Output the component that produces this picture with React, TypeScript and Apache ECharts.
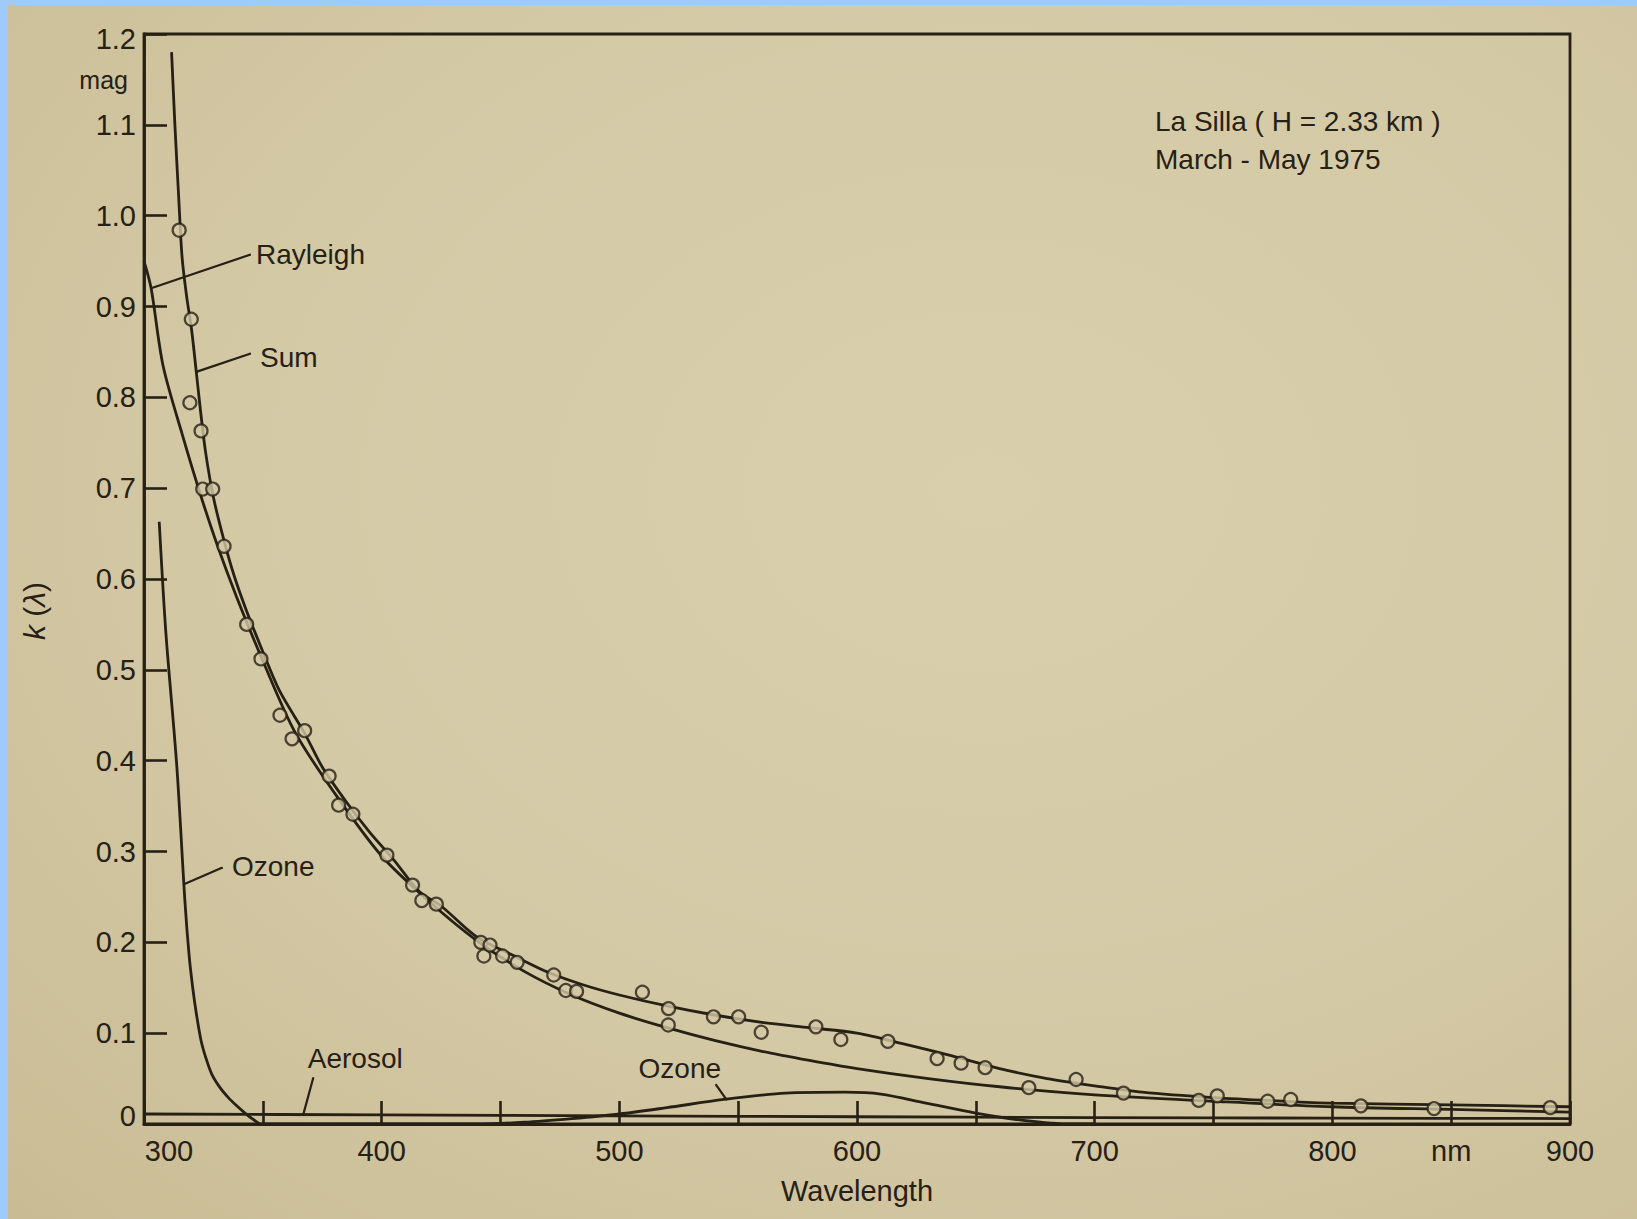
import React, { useEffect, useRef } from "react";
import * as echarts from "echarts";

// ---------- data ----------
// Sum curve (total extinction), wavelength in nm
const sumNm = [311.6, 313, 314.6, 316, 318, 320, 322, 324, 326, 329.2, 333.7, 338, 343, 350, 357, 367.6, 375, 385, 395, 405, 415.8, 425, 440, 455, 470, 485, 500, 520, 540, 560, 580, 600, 620, 640, 660, 680, 700, 720, 750, 780, 800, 850, 900];
const sumK = [1.18, 1.1, 1.02, 0.955, 0.91, 0.875, 0.828, 0.78, 0.738, 0.69, 0.642, 0.603, 0.566, 0.52, 0.477, 0.43, 0.393, 0.355, 0.321, 0.291, 0.256, 0.24, 0.206, 0.186, 0.167, 0.153, 0.142, 0.13, 0.12, 0.112, 0.106, 0.1, 0.088, 0.075, 0.061, 0.05, 0.042, 0.035, 0.029, 0.025, 0.023, 0.021, 0.019];

// Rayleigh scattering
const rayleighNm = [300, 303, 308, 316, 323.5, 331, 339, 350, 363.4, 380, 400, 420, 440, 460, 480, 500, 520, 540, 560, 580, 600, 630, 660, 700, 750, 800, 850, 900];
const rayleighK = [0.95, 0.92, 0.835, 0.76, 0.695, 0.636, 0.58, 0.51, 0.432, 0.365, 0.295, 0.245, 0.202, 0.168, 0.142, 0.122, 0.106, 0.092, 0.08, 0.07, 0.061, 0.05, 0.041, 0.032, 0.025, 0.019, 0.016, 0.013];

// Ozone absorption (Huggins band in the UV, Chappuis band in the visible)
const ozoneNm = [306.4, 309.2, 313.8, 317.2, 319, 320.5, 322, 324, 326, 328.5, 332, 335.5, 339, 342.5, 346, 349.5, 400, 440, 460, 480, 500, 520, 544, 570, 595, 610, 629, 650, 670, 690, 700];
const ozoneK = [0.663, 0.541, 0.394, 0.246, 0.185, 0.15, 0.122, 0.092, 0.073, 0.055, 0.04, 0.029, 0.02, 0.012, 0.005, 0, 0, 0, 0.002, 0.006, 0.011, 0.018, 0.027, 0.034, 0.035, 0.033, 0.023, 0.012, 0.004, 0, 0];

// Aerosol extinction
const aerosolNm = [300, 400, 500, 600, 700, 800, 900];
const aerosolK = [0.011, 0.01, 0.009, 0.008, 0.007, 0.0065, 0.006];

// Observed extinction coefficients (open circles)
const obsNm = [314.8, 319.9, 319.3, 324.0, 324.7, 328.9, 333.7, 343.2, 349.2, 357.2, 362.3, 367.6, 377.9, 381.9, 387.9, 402.2, 413.0, 416.9, 423.0, 441.7, 443.0, 445.6, 450.9, 457.0, 472.4, 477.5, 482.0, 509.7, 520.7, 520.6, 539.6, 550.2, 559.7, 582.7, 593.2, 613.0, 633.7, 643.8, 653.9, 672.3, 692.2, 712.1, 743.8, 751.6, 772.8, 782.5, 812.0, 842.8, 891.7];
const obsK = [0.984, 0.886, 0.794, 0.763, 0.699, 0.699, 0.636, 0.55, 0.512, 0.45, 0.424, 0.433, 0.383, 0.351, 0.341, 0.296, 0.263, 0.246, 0.242, 0.2, 0.185, 0.197, 0.185, 0.178, 0.164, 0.147, 0.146, 0.145, 0.127, 0.109, 0.118, 0.118, 0.101, 0.107, 0.093, 0.091, 0.072, 0.067, 0.062, 0.04, 0.049, 0.034, 0.026, 0.031, 0.025, 0.027, 0.02, 0.017, 0.018];

// axis settings
const xMin = 300, xMax = 900, xStep = 50;
const yMin = 0, yMax = 1.2, yStep = 0.1;

// curve labels: [text, point on curve, end of leader line]
const curveLabels: Array<[string, number[], number[]]> = [
  ["Rayleigh", [303, 0.92], [344.6, 0.957]],
  ["Sum", [322, 0.828], [344.6, 0.848]],
  ["Ozone", [316.8, 0.264], [332.8, 0.282]],
  ["Aerosol", [367, 0.0103], [371.2, 0.0506]],
  ["Ozone", [545, 0.027], [540.7, 0.043]],
];

const siteLines = ["La Silla ( H = 2.33 km )", "March - May 1975"];

// ---------- styling ----------
const W = 1637, H = 1219;
const INK = "#262015";
const PAPER = "#d4c9a5";
const BLUE = "#9ecbfc";
const FONT = '"Liberation Sans", Arial, sans-serif';

const pairs = (xs: number[], ys: number[]) => xs.map((x, i) => [x, ys[i]]);

const curve = (name: string, xs: number[], ys: number[]) => ({
  type: "line",
  name,
  data: pairs(xs, ys),
  showSymbol: false,
  symbol: "none",
  smooth: 0.3,
  lineStyle: { color: INK, width: 2.8 },
  silent: true,
  z: 3,
});

const labelPlacement: Record<number, any> = {
  0: { position: "right", offset: [0, 0] },
  1: { position: "right", offset: [4, 4] },
  2: { position: "right", offset: [4, -1] },
  3: { position: "top", offset: [42, 0] },
  4: { position: "left", offset: [11, -16] },
};

const leaderSeries = curveLabels.map(([text, from, to], i) => ({
  type: "line",
  name: "label-" + i,
  data: [
    { value: from },
    {
      value: to,
      label: {
        show: true,
        formatter: text,
        color: INK,
        fontFamily: FONT,
        fontSize: 28,
        distance: 5,
        ...labelPlacement[i],
      },
    },
  ],
  symbol: "circle",
  symbolSize: 2,
  showSymbol: true,
  itemStyle: { color: INK },
  lineStyle: { color: INK, width: 2.2 },
  silent: true,
  z: 4,
}));

export default function App() {
  const ref = useRef<HTMLDivElement>(null);

  useEffect(() => {
    if (!ref.current) return;
    const chart = echarts.init(ref.current, null, { renderer: "svg", width: W, height: H });
    const option: any = {
      animation: false,
      backgroundColor: "transparent",
      grid: {
        left: 144,
        top: 34,
        width: 1426,
        height: 1090,
        show: true,
        borderColor: INK,
        borderWidth: 2.8,
        backgroundColor: "transparent",
      },
      xAxis: {
        type: "value",
        min: xMin,
        max: xMax,
        interval: xStep,
        axisLine: { show: true, lineStyle: { color: INK, width: 2.8 } },
        axisTick: { show: true, inside: true, length: 23, lineStyle: { color: INK, width: 2.6 } },
        splitLine: { show: false },
        axisLabel: {
          margin: 12,
          color: INK,
          fontFamily: FONT,
          fontSize: 29,
          formatter: (v: number) => {
            if (v === 300) return "{a|300}";
            if (v % 100 === 0) return String(v);
            if (v === 850) return "nm";
            return "";
          },
          rich: { a: { padding: [0, 0, 0, 50], fontFamily: FONT, fontSize: 29, color: INK } },
        },
        name: "Wavelength",
        nameLocation: "middle",
        nameGap: 52,
        nameTextStyle: { color: INK, fontFamily: FONT, fontSize: 29 },
      },
      yAxis: {
        type: "value",
        min: yMin,
        max: yMax,
        interval: yStep,
        axisLine: { show: true, lineStyle: { color: INK, width: 2.8 } },
        axisTick: { show: true, inside: true, length: 23, lineStyle: { color: INK, width: 2.6 } },
        splitLine: { show: false },
        axisLabel: {
          margin: 8,
          color: INK,
          fontFamily: FONT,
          fontSize: 29,
          formatter: (v: number) => {
            if (Math.abs(v) < 1e-9) return "{z|0}";
            if (Math.abs(v - 1.2) < 1e-9) return "{t|1.2}";
            return v.toFixed(1);
          },
          rich: {
            z: { padding: [0, 0, 16, 0], fontFamily: FONT, fontSize: 29, color: INK },
            t: { padding: [10, 0, 0, 0], fontFamily: FONT, fontSize: 29, color: INK },
          },
        },
        name: "{i|k} ({i|λ})",
        nameLocation: "middle",
        nameGap: 95,
        nameRotate: 90,
        nameTextStyle: {
          color: INK,
          fontFamily: FONT,
          fontSize: 30,
          padding: [0, 64, 0, 0],
          rich: { i: { fontStyle: "italic", fontFamily: FONT, fontSize: 30, color: INK } },
        },
      },
      graphic: [
        {
          type: "text",
          x: 128,
          y: 80,
          style: { text: "mag", fill: INK, font: `25px ${FONT}`, align: "right", verticalAlign: "middle" },
          silent: true,
        },
        {
          type: "text",
          left: 1155,
          top: 102,
          style: { text: siteLines.join("\n"), fill: INK, font: `28px ${FONT}`, lineHeight: 38 },
          silent: true,
        },
      ],
      series: [
        curve("Rayleigh", rayleighNm, rayleighK),
        curve("Sum", sumNm, sumK),
        curve("Ozone", ozoneNm, ozoneK),
        curve("Aerosol", aerosolNm, aerosolK),
        ...leaderSeries,
        {
          type: "scatter",
          name: "Observed",
          data: pairs(obsNm, obsK),
          symbol: "circle",
          symbolSize: 13,
          itemStyle: { color: PAPER, borderColor: INK, borderWidth: 2.2 },
          silent: true,
          z: 6,
        },
      ],
    };
    chart.setOption(option);
    return () => chart.dispose();
  }, []);

  return (
    <div style={{ position: "absolute", left: 0, top: 0, width: W, height: H, background: BLUE, overflow: "hidden" }}>
      <div
        style={{
          position: "absolute",
          left: 8,
          top: 5,
          right: 0,
          bottom: 0,
          background: `radial-gradient(ellipse at 60% 40%, #d9cfac 0%, ${PAPER} 55%, #c9bc95 100%)`,
        }}
      />
      <div ref={ref} style={{ position: "absolute", left: 0, top: 0, width: W, height: H }} />
    </div>
  );
}
